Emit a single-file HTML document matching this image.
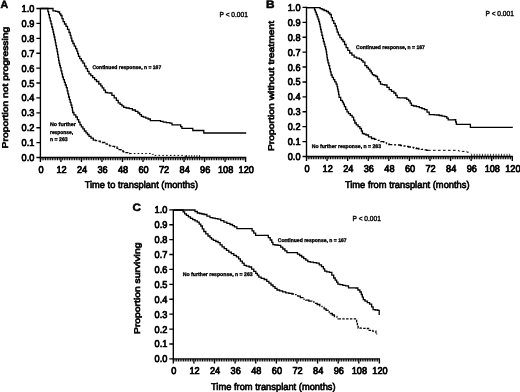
<!DOCTYPE html>
<html lang="en">
<head>
<meta charset="utf-8">
<title>Figure</title>
<style>
html,body{margin:0;padding:0;background:#fff;}
body{width:520px;height:392px;overflow:hidden;}
svg{display:block;}
text{font-family:"Liberation Sans", sans-serif;fill:#000;text-rendering:geometricPrecision;}
.tk{font-size:9.2px;stroke:#000;stroke-width:0.7px;}
.ti{font-size:8.3px;stroke:#000;stroke-width:0.62px;}
.tx{font-size:9.3px;stroke:#000;stroke-width:0.62px;}
.pl{font-size:10.6px;font-weight:bold;stroke:#000;stroke-width:0.5px;}
.pv{font-size:7.3px;stroke:#000;stroke-width:0.4px;}
.lg{font-size:5.25px;font-weight:bold;stroke:#000;stroke-width:0.33px;}
</style>
</head>
<body>
<svg width="520" height="392" viewBox="0 0 520 392">
<rect width="520" height="392" fill="#fff"/>
<path d="M40.40,7.90V157.50H246.20" fill="none" stroke="#000" stroke-width="1.35"/>
<text transform="translate(34.40,161.00) scale(1,1.07)" text-anchor="end" class="tk">0.0</text>
<text transform="translate(34.40,146.10) scale(1,1.07)" text-anchor="end" class="tk">0.1</text>
<text transform="translate(34.40,131.20) scale(1,1.07)" text-anchor="end" class="tk">0.2</text>
<text transform="translate(34.40,116.30) scale(1,1.07)" text-anchor="end" class="tk">0.3</text>
<text transform="translate(34.40,101.40) scale(1,1.07)" text-anchor="end" class="tk">0.4</text>
<text transform="translate(34.40,86.50) scale(1,1.07)" text-anchor="end" class="tk">0.5</text>
<text transform="translate(34.40,71.60) scale(1,1.07)" text-anchor="end" class="tk">0.6</text>
<text transform="translate(34.40,56.70) scale(1,1.07)" text-anchor="end" class="tk">0.7</text>
<text transform="translate(34.40,41.80) scale(1,1.07)" text-anchor="end" class="tk">0.8</text>
<text transform="translate(34.40,26.90) scale(1,1.07)" text-anchor="end" class="tk">0.9</text>
<text transform="translate(34.40,12.00) scale(1,1.07)" text-anchor="end" class="tk">1.0</text>
<text transform="translate(41.00,173.40) scale(1,1.07)" text-anchor="middle" class="tk">0</text>
<text transform="translate(61.52,173.40) scale(1,1.07)" text-anchor="middle" class="tk">12</text>
<text transform="translate(82.04,173.40) scale(1,1.07)" text-anchor="middle" class="tk">24</text>
<text transform="translate(102.56,173.40) scale(1,1.07)" text-anchor="middle" class="tk">36</text>
<text transform="translate(123.08,173.40) scale(1,1.07)" text-anchor="middle" class="tk">48</text>
<text transform="translate(143.60,173.40) scale(1,1.07)" text-anchor="middle" class="tk">60</text>
<text transform="translate(164.12,173.40) scale(1,1.07)" text-anchor="middle" class="tk">72</text>
<text transform="translate(184.64,173.40) scale(1,1.07)" text-anchor="middle" class="tk">84</text>
<text transform="translate(205.16,173.40) scale(1,1.07)" text-anchor="middle" class="tk">96</text>
<text transform="translate(225.68,173.40) scale(1,1.07)" text-anchor="middle" class="tk">108</text>
<text transform="translate(246.20,173.40) scale(1,1.07)" text-anchor="middle" class="tk">120</text>
<path d="M36.40,157.50H40.40M36.40,142.60H40.40M36.40,127.70H40.40M36.40,112.80H40.40M36.40,97.90H40.40M36.40,83.00H40.40M36.40,68.10H40.40M36.40,53.20H40.40M36.40,38.30H40.40M36.40,23.40H40.40M36.40,8.50H40.40M40.40,157.50V162.10M60.92,157.50V162.10M81.44,157.50V162.10M101.96,157.50V162.10M122.48,157.50V162.10M143.00,157.50V162.10M163.52,157.50V162.10M184.04,157.50V162.10M204.56,157.50V162.10M225.08,157.50V162.10M245.60,157.50V162.10" fill="none" stroke="#000" stroke-width="1.35"/>
<path d="M42.11,157.50V160.20M43.82,157.50V160.20M45.53,157.50V160.20M47.24,157.50V160.20M48.95,157.50V160.20M50.66,157.50V160.20M52.37,157.50V160.20M54.08,157.50V160.20M55.79,157.50V160.20M57.50,157.50V160.20M59.21,157.50V160.20M62.63,157.50V160.20M64.34,157.50V160.20M66.05,157.50V160.20M67.76,157.50V160.20M69.47,157.50V160.20M71.18,157.50V160.20M72.89,157.50V160.20M74.60,157.50V160.20M76.31,157.50V160.20M78.02,157.50V160.20M79.73,157.50V160.20M83.15,157.50V160.20M84.86,157.50V160.20M86.57,157.50V160.20M88.28,157.50V160.20M89.99,157.50V160.20M91.70,157.50V160.20M93.41,157.50V160.20M95.12,157.50V160.20M96.83,157.50V160.20M98.54,157.50V160.20M100.25,157.50V160.20M103.67,157.50V160.20M105.38,157.50V160.20M107.09,157.50V160.20M108.80,157.50V160.20M110.51,157.50V160.20M112.22,157.50V160.20M113.93,157.50V160.20M115.64,157.50V160.20M117.35,157.50V160.20M119.06,157.50V160.20M120.77,157.50V160.20M124.19,157.50V160.20M125.90,157.50V160.20M127.61,157.50V160.20M129.32,157.50V160.20M131.03,157.50V160.20M132.74,157.50V160.20M134.45,157.50V160.20M136.16,157.50V160.20M137.87,157.50V160.20M139.58,157.50V160.20M141.29,157.50V160.20M144.71,157.50V160.20M146.42,157.50V160.20M148.13,157.50V160.20M149.84,157.50V160.20M151.55,157.50V160.20M153.26,157.50V160.20M154.97,157.50V160.20M156.68,157.50V160.20M158.39,157.50V160.20M160.10,157.50V160.20M161.81,157.50V160.20M165.23,157.50V160.20M166.94,157.50V160.20M168.65,157.50V160.20M170.36,157.50V160.20M172.07,157.50V160.20M173.78,157.50V160.20M175.49,157.50V160.20M177.20,157.50V160.20M178.91,157.50V160.20M180.62,157.50V160.20M182.33,157.50V160.20M185.75,157.50V160.20M187.46,157.50V160.20M189.17,157.50V160.20M190.88,157.50V160.20M192.59,157.50V160.20M194.30,157.50V160.20M196.01,157.50V160.20M197.72,157.50V160.20M199.43,157.50V160.20M201.14,157.50V160.20M202.85,157.50V160.20M206.27,157.50V160.20M207.98,157.50V160.20M209.69,157.50V160.20M211.40,157.50V160.20M213.11,157.50V160.20M214.82,157.50V160.20M216.53,157.50V160.20M218.24,157.50V160.20M219.95,157.50V160.20M221.66,157.50V160.20M223.37,157.50V160.20M226.79,157.50V160.20M228.50,157.50V160.20M230.21,157.50V160.20M231.92,157.50V160.20M233.63,157.50V160.20M235.34,157.50V160.20M237.05,157.50V160.20M238.76,157.50V160.20M240.47,157.50V160.20M242.18,157.50V160.20M243.89,157.50V160.20" fill="none" stroke="#000" stroke-width="1.05"/>
<text transform="translate(8.00,148.40) rotate(-90)" textLength="121.70" lengthAdjust="spacingAndGlyphs" class="ti">Proportion not progressing</text>
<text transform="translate(84.70,188.10) scale(1,1.05)" textLength="113.30" lengthAdjust="spacingAndGlyphs" class="tx">Time to transplant (months)</text>
<text transform="translate(0.5,8.0) scale(1.0,1.0)" class="pl">A</text>
<text x="219.6" y="17.2" textLength="28.2" lengthAdjust="spacingAndGlyphs" class="pv">P &lt; 0.001</text>
<text x="92.4" y="69.4" textLength="68.8" lengthAdjust="spacingAndGlyphs" class="lg">Continued response, n = 167</text>
<text x="50.0" y="126.4" textLength="25.8" lengthAdjust="spacingAndGlyphs" class="lg">No further</text>
<text x="50.0" y="134.0" textLength="23.1" lengthAdjust="spacingAndGlyphs" class="lg">response,</text>
<text x="50.0" y="141.3" textLength="17.7" lengthAdjust="spacingAndGlyphs" class="lg">n = 263</text>
<polyline points="40.4,8.5 51.4,8.5 53.0,8.5 53.0,10.9 54.5,10.9 55.6,10.9 55.6,11.4 56.8,11.4 57.9,11.4 57.9,12.0 59.0,12.0 59.6,12.0 59.6,13.8 60.2,13.8 60.8,13.8 60.8,15.5 61.4,15.5 62.0,15.5 62.0,18.6 62.5,18.6 63.1,18.6 63.1,21.7 63.7,21.7 64.5,21.7 64.5,24.0 65.2,24.0 66.0,24.0 66.0,26.3 66.8,26.3 67.5,26.3 67.5,29.4 68.3,29.4 69.0,29.4 69.0,32.5 69.8,32.5 70.2,32.5 70.2,35.3 70.6,35.3 71.0,35.3 71.0,38.2 71.4,38.2 71.8,38.2 71.8,41.0 72.2,41.0 72.9,41.0 72.9,43.5 73.6,43.5 74.2,43.5 74.2,46.1 74.9,46.1 75.6,46.1 75.6,48.6 76.3,48.6 76.8,48.6 76.8,51.2 77.2,51.2 77.7,51.2 77.7,53.7 78.1,53.7 78.5,53.7 78.5,56.3 79.0,56.3 79.8,56.3 79.8,58.6 80.6,58.6 81.3,58.6 81.3,60.9 82.1,60.9 82.9,60.9 82.9,63.2 83.7,63.2 84.5,63.2 84.5,66.2 85.2,66.2 86.0,66.2 86.0,68.7 86.7,68.7 87.5,68.7 87.5,71.3 88.3,71.3 89.0,71.3 89.0,73.8 89.8,73.8 90.8,73.8 90.8,75.7 91.7,75.7 92.7,75.7 92.7,77.7 93.7,77.7 94.6,77.7 94.6,79.6 95.6,79.6 96.5,79.6 96.5,81.5 97.5,81.5 98.8,81.5 98.8,84.0 100.0,84.0 100.8,84.0 100.8,85.9 101.5,85.9 102.2,85.9 102.2,87.8 103.0,87.8 103.8,87.8 103.8,90.2 104.6,90.2 105.4,90.2 105.4,92.5 106.2,92.5 107.3,92.5 107.3,92.8 108.5,92.8 109.7,92.8 109.7,93.0 110.8,93.0 111.9,93.0 111.9,95.4 113.1,95.4 114.2,95.4 114.2,97.8 115.4,97.8 116.4,97.8 116.4,100.3 117.3,100.3 118.2,100.3 118.2,102.8 119.2,102.8 120.1,102.8 120.1,104.3 121.0,104.3 121.9,104.3 121.9,105.9 122.8,105.9 123.7,105.9 123.7,107.4 124.6,107.4 126.2,107.4 126.2,108.0 127.7,108.0 129.2,108.0 129.2,108.6 130.8,108.6 132.4,108.6 132.4,110.0 133.9,110.0 135.4,110.0 135.4,111.4 137.0,111.4 137.9,111.4 137.9,113.0 138.8,113.0 139.7,113.0 139.7,114.7 140.5,114.7 141.4,114.7 141.4,116.3 142.3,116.3 143.4,116.3 143.4,117.2 144.6,117.2 145.8,117.2 145.8,118.1 146.9,118.1 148.1,118.1 148.1,119.0 149.2,119.0 150.3,119.0 150.3,120.6 151.5,120.6 159.2,120.6 160.5,120.6 160.5,121.4 161.9,121.4 163.2,121.4 163.2,122.2 164.6,122.2 166.3,122.2 166.3,122.7 168.1,122.7 169.8,122.7 169.8,123.2 171.5,123.2 172.0,123.2 172.0,124.8 172.5,124.8 180.0,124.8 180.7,124.8 180.7,126.6 181.3,126.6 181.9,126.6 181.9,128.3 182.6,128.3 192.3,128.3 192.8,128.3 192.8,130.5 193.3,130.5 203.0,130.5 203.8,130.5 203.8,133.0 204.6,133.0 246.2,133.0" fill="none" stroke="#000" stroke-width="1.3" stroke-linejoin="miter"/>
<polyline points="40.4,8.5 47.5,8.5 47.9,8.5 47.9,11.6 48.3,11.6 48.6,11.6 48.6,14.7 49.0,14.7 49.4,14.7 49.4,17.8 49.8,17.8 50.2,17.8 50.2,20.9 50.6,20.9 51.0,20.9 51.0,23.9 51.4,23.9 51.8,23.9 51.8,27.0 52.2,27.0 52.5,27.0 52.5,29.5 52.8,29.5 53.1,29.5 53.1,32.0 53.4,32.0 53.6,32.0 53.6,34.5 53.9,34.5 54.2,34.5 54.2,37.0 54.5,37.0 54.8,37.0 54.8,39.9 55.1,39.9 55.4,39.9 55.4,42.8 55.6,42.8 55.9,42.8 55.9,45.7 56.2,45.7 56.5,45.7 56.5,48.6 56.8,48.6 57.1,48.6 57.1,51.5 57.3,51.5 57.6,51.5 57.6,54.4 57.8,54.4 58.1,54.4 58.1,57.4 58.4,57.4 58.6,57.4 58.6,60.3 58.9,60.3 59.1,60.3 59.1,63.2 59.4,63.2 59.7,63.2 59.7,65.5 60.0,65.5 60.3,65.5 60.3,67.7 60.6,67.7 61.0,67.7 61.0,70.8 61.4,70.8 61.8,70.8 61.8,73.9 62.1,73.9 62.5,73.9 62.5,77.0 62.9,77.0 63.4,77.0 63.4,79.7 63.9,79.7 64.4,79.7 64.4,82.3 64.8,82.3 65.3,82.3 65.3,85.0 65.8,85.0 66.3,85.0 66.3,87.7 66.8,87.7 67.2,87.7 67.2,90.8 67.5,90.8 67.9,90.8 67.9,93.9 68.3,93.9 68.6,93.9 68.6,97.0 69.0,97.0 69.4,97.0 69.4,99.7 69.8,99.7 70.2,99.7 70.2,102.3 70.6,102.3 71.0,102.3 71.0,105.0 71.4,105.0 71.8,105.0 71.8,107.7 72.2,107.7 72.4,107.7 72.4,110.1 72.6,110.1 72.7,110.1 72.7,112.5 72.9,112.5 73.9,112.5 73.9,114.8 74.8,114.8 75.8,114.8 75.8,117.0 76.8,117.0 77.4,117.0 77.4,119.6 78.1,119.6 78.7,119.6 78.7,122.2 79.3,122.2 80.0,122.2 80.0,124.8 80.6,124.8 81.4,124.8 81.4,126.9 82.1,126.9 82.9,126.9 82.9,128.9 83.7,128.9 84.4,128.9 84.4,131.0 85.2,131.0 86.0,131.0 86.0,132.8 86.7,132.8 87.5,132.8 87.5,134.5 88.3,134.5 89.0,134.5 89.0,136.3 89.8,136.3 91.0,136.3 91.0,138.2 92.2,138.2 93.3,138.2 93.3,140.2 94.5,140.2" fill="none" stroke="#000" stroke-width="1.3" stroke-linejoin="miter"/>
<polyline points="94.5,140.2 95.6,140.2 95.6,140.7 96.8,140.7 97.9,140.7 97.9,141.2 99.0,141.2 100.2,141.2 100.2,141.8 101.3,141.8 102.5,141.8 102.5,142.5 103.7,142.5 104.8,142.5 104.8,143.8 106.0,143.8 107.2,143.8 107.2,145.2 108.3,145.2 109.6,145.2 109.6,145.8 110.9,145.8 112.2,145.8 112.2,146.4 113.4,146.4 114.7,146.4 114.7,147.0 116.0,147.0 117.0,147.0 117.0,148.3 118.0,148.3 119.0,148.3 119.0,149.7 120.0,149.7 121.0,149.7 121.0,151.0 122.0,151.0 123.3,151.0 123.3,151.8 124.7,151.8 126.0,151.8 126.0,152.7 127.3,152.7 128.7,152.7 128.7,153.5 130.0,153.5" fill="none" stroke="#000" stroke-width="1.3" stroke-linejoin="miter" stroke-dasharray="3.2 1.6"/>
<polyline points="130.0,153.5 150.0,153.5 151.2,153.5 151.2,154.4 152.5,154.4 153.8,154.4 153.8,155.4 155.0,155.4 184.0,155.4 185.0,155.4 185.0,156.4 186.0,156.4" fill="none" stroke="#000" stroke-width="1.0" stroke-linejoin="miter" stroke-dasharray="1.6 2.2"/>
<path d="M186.5,157.0v-2.0M189.1,157.0v-2.0M191.7,157.0v-2.0M194.3,157.0v-2.0M196.9,157.0v-2.0M199.5,157.0v-2.0" fill="none" stroke="#000" stroke-width="0.8"/>
<path d="M306.50,6.80V156.50H512.90" fill="none" stroke="#000" stroke-width="1.35"/>
<text transform="translate(300.50,160.00) scale(1,1.07)" text-anchor="end" class="tk">0.0</text>
<text transform="translate(300.50,145.09) scale(1,1.07)" text-anchor="end" class="tk">0.1</text>
<text transform="translate(300.50,130.18) scale(1,1.07)" text-anchor="end" class="tk">0.2</text>
<text transform="translate(300.50,115.27) scale(1,1.07)" text-anchor="end" class="tk">0.3</text>
<text transform="translate(300.50,100.36) scale(1,1.07)" text-anchor="end" class="tk">0.4</text>
<text transform="translate(300.50,85.45) scale(1,1.07)" text-anchor="end" class="tk">0.5</text>
<text transform="translate(300.50,70.54) scale(1,1.07)" text-anchor="end" class="tk">0.6</text>
<text transform="translate(300.50,55.63) scale(1,1.07)" text-anchor="end" class="tk">0.7</text>
<text transform="translate(300.50,40.72) scale(1,1.07)" text-anchor="end" class="tk">0.8</text>
<text transform="translate(300.50,25.81) scale(1,1.07)" text-anchor="end" class="tk">0.9</text>
<text transform="translate(300.50,10.90) scale(1,1.07)" text-anchor="end" class="tk">1.0</text>
<text transform="translate(307.10,172.10) scale(1,1.07)" text-anchor="middle" class="tk">0</text>
<text transform="translate(327.68,172.10) scale(1,1.07)" text-anchor="middle" class="tk">12</text>
<text transform="translate(348.26,172.10) scale(1,1.07)" text-anchor="middle" class="tk">24</text>
<text transform="translate(368.84,172.10) scale(1,1.07)" text-anchor="middle" class="tk">36</text>
<text transform="translate(389.42,172.10) scale(1,1.07)" text-anchor="middle" class="tk">48</text>
<text transform="translate(410.00,172.10) scale(1,1.07)" text-anchor="middle" class="tk">60</text>
<text transform="translate(430.58,172.10) scale(1,1.07)" text-anchor="middle" class="tk">72</text>
<text transform="translate(451.16,172.10) scale(1,1.07)" text-anchor="middle" class="tk">84</text>
<text transform="translate(471.74,172.10) scale(1,1.07)" text-anchor="middle" class="tk">96</text>
<text transform="translate(492.32,172.10) scale(1,1.07)" text-anchor="middle" class="tk">108</text>
<text transform="translate(512.90,172.10) scale(1,1.07)" text-anchor="middle" class="tk">120</text>
<path d="M302.50,156.50H306.50M302.50,141.59H306.50M302.50,126.68H306.50M302.50,111.77H306.50M302.50,96.86H306.50M302.50,81.95H306.50M302.50,67.04H306.50M302.50,52.13H306.50M302.50,37.22H306.50M302.50,22.31H306.50M302.50,7.40H306.50M306.50,156.50V161.10M327.08,156.50V161.10M347.66,156.50V161.10M368.24,156.50V161.10M388.82,156.50V161.10M409.40,156.50V161.10M429.98,156.50V161.10M450.56,156.50V161.10M471.14,156.50V161.10M491.72,156.50V161.10M512.30,156.50V161.10" fill="none" stroke="#000" stroke-width="1.35"/>
<path d="M308.21,156.50V159.20M309.93,156.50V159.20M311.64,156.50V159.20M313.36,156.50V159.20M315.07,156.50V159.20M316.79,156.50V159.20M318.50,156.50V159.20M320.22,156.50V159.20M321.94,156.50V159.20M323.65,156.50V159.20M325.37,156.50V159.20M328.80,156.50V159.20M330.51,156.50V159.20M332.22,156.50V159.20M333.94,156.50V159.20M335.65,156.50V159.20M337.37,156.50V159.20M339.08,156.50V159.20M340.80,156.50V159.20M342.51,156.50V159.20M344.23,156.50V159.20M345.94,156.50V159.20M349.38,156.50V159.20M351.09,156.50V159.20M352.81,156.50V159.20M354.52,156.50V159.20M356.24,156.50V159.20M357.95,156.50V159.20M359.66,156.50V159.20M361.38,156.50V159.20M363.09,156.50V159.20M364.81,156.50V159.20M366.52,156.50V159.20M369.95,156.50V159.20M371.67,156.50V159.20M373.38,156.50V159.20M375.10,156.50V159.20M376.81,156.50V159.20M378.53,156.50V159.20M380.25,156.50V159.20M381.96,156.50V159.20M383.67,156.50V159.20M385.39,156.50V159.20M387.11,156.50V159.20M390.53,156.50V159.20M392.25,156.50V159.20M393.96,156.50V159.20M395.68,156.50V159.20M397.39,156.50V159.20M399.11,156.50V159.20M400.82,156.50V159.20M402.54,156.50V159.20M404.25,156.50V159.20M405.97,156.50V159.20M407.68,156.50V159.20M411.12,156.50V159.20M412.83,156.50V159.20M414.54,156.50V159.20M416.26,156.50V159.20M417.97,156.50V159.20M419.69,156.50V159.20M421.40,156.50V159.20M423.12,156.50V159.20M424.83,156.50V159.20M426.55,156.50V159.20M428.26,156.50V159.20M431.69,156.50V159.20M433.41,156.50V159.20M435.12,156.50V159.20M436.84,156.50V159.20M438.55,156.50V159.20M440.27,156.50V159.20M441.99,156.50V159.20M443.70,156.50V159.20M445.41,156.50V159.20M447.13,156.50V159.20M448.84,156.50V159.20M452.27,156.50V159.20M453.99,156.50V159.20M455.70,156.50V159.20M457.42,156.50V159.20M459.13,156.50V159.20M460.85,156.50V159.20M462.56,156.50V159.20M464.28,156.50V159.20M465.99,156.50V159.20M467.71,156.50V159.20M469.42,156.50V159.20M472.85,156.50V159.20M474.57,156.50V159.20M476.28,156.50V159.20M478.00,156.50V159.20M479.71,156.50V159.20M481.43,156.50V159.20M483.14,156.50V159.20M484.86,156.50V159.20M486.57,156.50V159.20M488.29,156.50V159.20M490.00,156.50V159.20M493.43,156.50V159.20M495.15,156.50V159.20M496.86,156.50V159.20M498.58,156.50V159.20M500.29,156.50V159.20M502.01,156.50V159.20M503.72,156.50V159.20M505.44,156.50V159.20M507.15,156.50V159.20M508.87,156.50V159.20M510.58,156.50V159.20" fill="none" stroke="#000" stroke-width="1.05"/>
<text transform="translate(273.80,151.10) rotate(-90)" textLength="130.30" lengthAdjust="spacingAndGlyphs" class="ti">Proportion without treatment</text>
<text transform="translate(344.90,187.80) scale(1,1.05)" textLength="124.70" lengthAdjust="spacingAndGlyphs" class="tx">Time from transplant (months)</text>
<text transform="translate(265.9,7.8) scale(1.12,1.03)" class="pl">B</text>
<text x="485.6" y="16.2" textLength="28.2" lengthAdjust="spacingAndGlyphs" class="pv">P &lt; 0.001</text>
<text x="356.0" y="48.6" textLength="68.8" lengthAdjust="spacingAndGlyphs" class="lg">Continued response, n = 167</text>
<text x="311.8" y="147.8" textLength="69.2" lengthAdjust="spacingAndGlyphs" class="lg">No further response, n = 263</text>
<polyline points="307.0,7.6 319.2,7.6 320.1,7.6 320.1,8.6 321.1,8.6 322.1,8.6 322.1,9.5 323.0,9.5 324.1,9.5 324.1,10.5 325.3,10.5 326.5,10.5 326.5,11.5 327.6,11.5 328.4,11.5 328.4,13.0 329.1,13.0 329.9,13.0 329.9,14.5 330.7,14.5 331.3,14.5 331.3,17.6 331.9,17.6 332.4,17.6 332.4,20.7 333.0,20.7 333.8,20.7 333.8,23.4 334.5,23.4 335.2,23.4 335.2,26.0 336.0,26.0 336.4,26.0 336.4,29.1 336.8,29.1 337.2,29.1 337.2,32.2 337.6,32.2 338.4,32.2 338.4,34.9 339.1,34.9 339.9,34.9 339.9,37.6 340.7,37.6 341.5,37.6 341.5,39.5 342.2,39.5 343.0,39.5 343.0,41.5 343.8,41.5 344.6,41.5 344.6,44.5 345.3,44.5 346.1,44.5 346.1,47.6 346.8,47.6 347.8,47.6 347.8,50.3 348.8,50.3 349.7,50.3 349.7,53.0 350.7,53.0 351.9,53.0 351.9,55.1 353.0,55.1 354.1,55.1 354.1,57.2 355.3,57.2 356.6,57.2 356.6,58.2 358.0,58.2 359.4,58.2 359.4,59.2 360.7,59.2 361.5,59.2 361.5,60.7 362.2,60.7 363.0,60.7 363.0,62.2 363.8,62.2 364.9,62.2 364.9,65.7 366.0,65.7 366.8,65.7 366.8,67.5 367.6,67.5 368.4,67.5 368.4,69.2 369.1,69.2 369.9,69.2 369.9,71.0 370.7,71.0 371.3,71.0 371.3,72.8 371.9,72.8 372.4,72.8 372.4,74.6 373.0,74.6 373.9,74.6 373.9,75.5 374.9,75.5 375.9,75.5 375.9,76.5 376.8,76.5 377.5,76.5 377.5,79.1 378.3,79.1 379.0,79.1 379.0,81.6 379.7,81.6 380.5,81.6 380.5,84.2 381.2,84.2 382.4,84.2 382.4,84.6 383.5,84.6 384.6,84.6 384.6,85.0 385.8,85.0 387.0,85.0 387.0,87.3 388.1,87.3 389.2,87.3 389.2,89.7 390.4,89.7 391.5,89.7 391.5,91.3 392.7,91.3 393.9,91.3 393.9,93.0 395.0,93.0 395.8,93.0 395.8,95.3 396.5,95.3 397.2,95.3 397.2,97.7 398.0,97.7 399.3,97.7 399.3,97.8 400.6,97.8 401.9,97.8 401.9,97.9 403.2,97.9 404.5,97.9 404.5,98.0 405.8,98.0 406.8,98.0 406.8,99.4 407.7,99.4 408.7,99.4 408.7,100.8 409.6,100.8 410.2,100.8 410.2,103.1 410.8,103.1 411.4,103.1 411.4,105.4 412.0,105.4 413.5,105.4 413.5,106.0 415.0,106.0 416.5,106.0 416.5,106.6 418.0,106.6 419.3,106.6 419.3,107.6 420.6,107.6 421.9,107.6 421.9,108.7 423.2,108.7 424.5,108.7 424.5,109.7 425.8,109.7 427.0,109.7 427.0,112.2 428.1,112.2 429.2,112.2 429.2,114.6 430.4,114.6 431.7,114.6 431.7,114.7 432.9,114.7 434.2,114.7 434.2,114.9 435.5,114.9 436.7,114.9 436.7,115.0 438.0,115.0 439.3,115.0 439.3,115.5 440.7,115.5 442.0,115.5 442.0,116.1 443.3,116.1 444.7,116.1 444.7,116.6 446.0,116.6 446.8,116.6 446.8,118.2 447.5,118.2 448.2,118.2 448.2,119.8 449.0,119.8 452.2,119.8 455.4,119.7 455.7,119.7 455.7,122.0 456.0,122.0 456.3,122.0 456.3,124.3 456.6,124.3 470.0,124.3 470.4,124.3 470.4,127.4 470.8,127.4 512.8,127.4" fill="none" stroke="#000" stroke-width="1.3" stroke-linejoin="miter"/>
<polyline points="307.0,7.6 314.0,7.6 314.5,7.6 314.5,9.9 314.9,9.9 315.4,9.9 315.4,12.2 315.9,12.2 316.3,12.2 316.3,14.5 316.8,14.5 317.2,14.5 317.2,16.8 317.6,16.8 318.0,16.8 318.0,19.2 318.4,19.2 318.8,19.2 318.8,21.5 319.2,21.5 319.5,21.5 319.5,24.2 319.8,24.2 320.1,24.2 320.1,26.9 320.4,26.9 320.6,26.9 320.6,29.5 320.9,29.5 321.2,29.5 321.2,32.2 321.5,32.2 321.9,32.2 321.9,35.3 322.3,35.3 322.6,35.3 322.6,38.4 323.0,38.4 323.4,38.4 323.4,41.5 323.8,41.5 324.2,41.5 324.2,44.1 324.5,44.1 324.9,44.1 324.9,46.6 325.3,46.6 325.6,46.6 325.6,49.2 326.0,49.2 326.2,49.2 326.2,51.9 326.4,51.9 326.6,51.9 326.6,54.6 326.8,54.6 327.0,54.6 327.0,57.3 327.2,57.3 327.4,57.3 327.4,60.0 327.6,60.0 328.0,60.0 328.0,62.9 328.4,62.9 328.8,62.9 328.8,65.7 329.2,65.7 329.6,65.7 329.6,68.8 330.0,68.8 330.4,68.8 330.4,71.9 330.7,71.9 331.1,71.9 331.1,75.0 331.5,75.0 332.2,75.0 332.2,77.3 332.8,77.3 333.5,77.3 333.5,79.6 334.1,79.6 334.8,79.6 334.8,81.9 335.5,81.9 336.1,81.9 336.1,84.2 336.8,84.2 337.1,84.2 337.1,86.6 337.3,86.6 337.6,86.6 337.6,89.1 337.8,89.1 338.1,89.1 338.1,91.5 338.3,91.5 338.6,91.5 338.6,94.4 338.9,94.4 339.1,94.4 339.1,97.3 339.4,97.3 340.7,97.3 340.7,100.3 342.0,100.3 342.4,100.3 342.4,102.2 342.9,102.2 343.4,102.2 343.4,104.2 343.8,104.2 344.4,104.2 344.4,106.7 345.1,106.7 345.7,106.7 345.7,109.3 346.3,109.3 347.0,109.3 347.0,111.8 347.6,111.8 348.5,111.8 348.5,113.6 349.4,113.6 350.3,113.6 350.3,115.4 351.2,115.4 352.1,115.4 352.1,117.2 353.0,117.2 353.6,117.2 353.6,120.1 354.2,120.1 354.8,120.1 354.8,123.0 355.4,123.0 356.3,123.0 356.3,124.8 357.2,124.8 358.1,124.8 358.1,126.7 359.0,126.7 359.9,126.7 359.9,128.5 360.8,128.5 361.4,128.5 361.4,131.0 361.9,131.0 362.4,131.0 362.4,133.5 363.0,133.5 364.0,133.5 364.0,134.2 365.0,134.2 366.0,134.2 366.0,135.0 367.0,135.0 368.5,135.0 368.5,136.8 370.0,136.8 371.5,136.8 371.5,138.5 373.0,138.5" fill="none" stroke="#000" stroke-width="1.3" stroke-linejoin="miter"/>
<polyline points="373.0,138.5 374.6,138.5 374.6,139.4 376.1,139.4 377.6,139.4 377.6,140.3 379.2,140.3 380.8,140.3 380.8,141.6 382.3,141.6 383.8,141.6 383.8,142.8 385.4,142.8 386.5,142.8 386.5,143.7 387.7,143.7 388.9,143.7 388.9,144.6 390.0,144.6 391.5,144.6 391.5,144.7 393.1,144.7 394.6,144.7 394.6,144.9 396.1,144.9 397.7,144.9 397.7,145.0 399.2,145.0 400.5,145.0 400.5,145.5 401.9,145.5 403.2,145.5 403.2,146.0 404.6,146.0 406.0,146.0 406.0,146.5 407.3,146.5 408.6,146.5 408.6,147.0 410.0,147.0 411.2,147.0 411.2,147.5 412.5,147.5 413.8,147.5 413.8,148.0 415.0,148.0 416.2,148.0 416.2,148.5 417.5,148.5 418.8,148.5 418.8,149.0 420.0,149.0 421.3,149.0 421.3,149.4 422.7,149.4 424.0,149.4 424.0,149.9 425.3,149.9 426.7,149.9 426.7,150.3 428.0,150.3" fill="none" stroke="#000" stroke-width="1.3" stroke-linejoin="miter" stroke-dasharray="4.5 2 2 2"/>
<polyline points="428.0,150.3 457.0,150.3 458.5,150.3 458.5,151.0 460.0,151.0 461.4,151.0 461.4,151.4 462.8,151.4 464.2,151.4 464.2,151.8 465.7,151.8 467.1,151.8 467.1,152.2 468.5,152.2 469.5,152.2 469.5,153.0 470.5,153.0" fill="none" stroke="#000" stroke-width="1.0" stroke-linejoin="miter" stroke-dasharray="2.6 2.4"/>
<path d="M471.6,156.2v-2.4M474.3,156.2v-2.4M477.0,156.2v-2.4M479.8,156.2v-2.4M482.5,156.2v-2.4M485.2,156.2v-2.4M487.9,156.2v-2.4M490.6,156.2v-2.4M493.4,156.2v-2.4M496.1,156.2v-2.4M498.8,156.2v-2.4M501.5,156.2v-2.4M504.2,156.2v-2.4M507.0,156.2v-2.4M509.7,156.2v-2.4" fill="none" stroke="#000" stroke-width="0.8"/>
<path d="M173.30,209.20V358.90H380.00" fill="none" stroke="#000" stroke-width="1.35"/>
<text transform="translate(167.30,362.40) scale(1,1.07)" text-anchor="end" class="tk">0.0</text>
<text transform="translate(167.30,347.49) scale(1,1.07)" text-anchor="end" class="tk">0.1</text>
<text transform="translate(167.30,332.58) scale(1,1.07)" text-anchor="end" class="tk">0.2</text>
<text transform="translate(167.30,317.67) scale(1,1.07)" text-anchor="end" class="tk">0.3</text>
<text transform="translate(167.30,302.76) scale(1,1.07)" text-anchor="end" class="tk">0.4</text>
<text transform="translate(167.30,287.85) scale(1,1.07)" text-anchor="end" class="tk">0.5</text>
<text transform="translate(167.30,272.94) scale(1,1.07)" text-anchor="end" class="tk">0.6</text>
<text transform="translate(167.30,258.03) scale(1,1.07)" text-anchor="end" class="tk">0.7</text>
<text transform="translate(167.30,243.12) scale(1,1.07)" text-anchor="end" class="tk">0.8</text>
<text transform="translate(167.30,228.21) scale(1,1.07)" text-anchor="end" class="tk">0.9</text>
<text transform="translate(167.30,213.30) scale(1,1.07)" text-anchor="end" class="tk">1.0</text>
<text transform="translate(173.90,374.40) scale(1,1.07)" text-anchor="middle" class="tk">0</text>
<text transform="translate(194.51,374.40) scale(1,1.07)" text-anchor="middle" class="tk">12</text>
<text transform="translate(215.12,374.40) scale(1,1.07)" text-anchor="middle" class="tk">24</text>
<text transform="translate(235.73,374.40) scale(1,1.07)" text-anchor="middle" class="tk">36</text>
<text transform="translate(256.34,374.40) scale(1,1.07)" text-anchor="middle" class="tk">48</text>
<text transform="translate(276.95,374.40) scale(1,1.07)" text-anchor="middle" class="tk">60</text>
<text transform="translate(297.56,374.40) scale(1,1.07)" text-anchor="middle" class="tk">72</text>
<text transform="translate(318.17,374.40) scale(1,1.07)" text-anchor="middle" class="tk">84</text>
<text transform="translate(338.78,374.40) scale(1,1.07)" text-anchor="middle" class="tk">96</text>
<text transform="translate(359.39,374.40) scale(1,1.07)" text-anchor="middle" class="tk">108</text>
<text transform="translate(380.00,374.40) scale(1,1.07)" text-anchor="middle" class="tk">120</text>
<path d="M169.30,358.90H173.30M169.30,343.99H173.30M169.30,329.08H173.30M169.30,314.17H173.30M169.30,299.26H173.30M169.30,284.35H173.30M169.30,269.44H173.30M169.30,254.53H173.30M169.30,239.62H173.30M169.30,224.71H173.30M169.30,209.80H173.30M173.30,358.90V363.50M193.91,358.90V363.50M214.52,358.90V363.50M235.13,358.90V363.50M255.74,358.90V363.50M276.35,358.90V363.50M296.96,358.90V363.50M317.57,358.90V363.50M338.18,358.90V363.50M358.79,358.90V363.50M379.40,358.90V363.50" fill="none" stroke="#000" stroke-width="1.35"/>
<path d="M175.02,358.90V361.60M176.74,358.90V361.60M178.45,358.90V361.60M180.17,358.90V361.60M181.89,358.90V361.60M183.61,358.90V361.60M185.32,358.90V361.60M187.04,358.90V361.60M188.76,358.90V361.60M190.48,358.90V361.60M192.19,358.90V361.60M195.63,358.90V361.60M197.34,358.90V361.60M199.06,358.90V361.60M200.78,358.90V361.60M202.50,358.90V361.60M204.22,358.90V361.60M205.93,358.90V361.60M207.65,358.90V361.60M209.37,358.90V361.60M211.09,358.90V361.60M212.80,358.90V361.60M216.24,358.90V361.60M217.96,358.90V361.60M219.67,358.90V361.60M221.39,358.90V361.60M223.11,358.90V361.60M224.82,358.90V361.60M226.54,358.90V361.60M228.26,358.90V361.60M229.98,358.90V361.60M231.69,358.90V361.60M233.41,358.90V361.60M236.85,358.90V361.60M238.56,358.90V361.60M240.28,358.90V361.60M242.00,358.90V361.60M243.72,358.90V361.60M245.44,358.90V361.60M247.15,358.90V361.60M248.87,358.90V361.60M250.59,358.90V361.60M252.31,358.90V361.60M254.02,358.90V361.60M257.46,358.90V361.60M259.18,358.90V361.60M260.89,358.90V361.60M262.61,358.90V361.60M264.33,358.90V361.60M266.04,358.90V361.60M267.76,358.90V361.60M269.48,358.90V361.60M271.20,358.90V361.60M272.91,358.90V361.60M274.63,358.90V361.60M278.07,358.90V361.60M279.78,358.90V361.60M281.50,358.90V361.60M283.22,358.90V361.60M284.94,358.90V361.60M286.65,358.90V361.60M288.37,358.90V361.60M290.09,358.90V361.60M291.81,358.90V361.60M293.52,358.90V361.60M295.24,358.90V361.60M298.68,358.90V361.60M300.39,358.90V361.60M302.11,358.90V361.60M303.83,358.90V361.60M305.55,358.90V361.60M307.26,358.90V361.60M308.98,358.90V361.60M310.70,358.90V361.60M312.42,358.90V361.60M314.13,358.90V361.60M315.85,358.90V361.60M319.29,358.90V361.60M321.00,358.90V361.60M322.72,358.90V361.60M324.44,358.90V361.60M326.16,358.90V361.60M327.88,358.90V361.60M329.59,358.90V361.60M331.31,358.90V361.60M333.03,358.90V361.60M334.75,358.90V361.60M336.46,358.90V361.60M339.90,358.90V361.60M341.62,358.90V361.60M343.33,358.90V361.60M345.05,358.90V361.60M346.77,358.90V361.60M348.49,358.90V361.60M350.20,358.90V361.60M351.92,358.90V361.60M353.64,358.90V361.60M355.35,358.90V361.60M357.07,358.90V361.60M360.51,358.90V361.60M362.23,358.90V361.60M363.94,358.90V361.60M365.66,358.90V361.60M367.38,358.90V361.60M369.10,358.90V361.60M370.81,358.90V361.60M372.53,358.90V361.60M374.25,358.90V361.60M375.96,358.90V361.60M377.68,358.90V361.60" fill="none" stroke="#000" stroke-width="1.05"/>
<text transform="translate(140.30,334.00) rotate(-90)" textLength="91.40" lengthAdjust="spacingAndGlyphs" class="ti">Proportion surviving</text>
<text transform="translate(211.00,390.00) scale(1,1.05)" textLength="124.60" lengthAdjust="spacingAndGlyphs" class="tx">Time from transplant (months)</text>
<text transform="translate(132.4,211.0) scale(1.1,1.03)" class="pl">C</text>
<text x="352.6" y="221.2" textLength="28.2" lengthAdjust="spacingAndGlyphs" class="pv">P &lt; 0.001</text>
<text x="277.8" y="242.3" textLength="68.8" lengthAdjust="spacingAndGlyphs" class="lg">Continued response, n = 167</text>
<text x="182.8" y="275.6" textLength="69.9" lengthAdjust="spacingAndGlyphs" class="lg">No further response, n = 263</text>
<polyline points="173.8,210.0 193.8,210.0 195.0,210.0 195.0,211.5 196.2,211.5 197.3,211.5 197.3,213.0 198.5,213.0 199.7,213.0 199.7,213.5 200.8,213.5 201.9,213.5 201.9,214.0 203.1,214.0 204.2,214.0 204.2,214.5 205.4,214.5 206.9,214.5 206.9,216.1 208.4,216.1 210.0,216.1 210.0,217.6 211.5,217.6 212.8,217.6 212.8,218.1 214.1,218.1 215.3,218.1 215.3,218.7 216.6,218.7 217.9,218.7 217.9,219.2 219.2,219.2 220.8,219.2 220.8,220.7 222.3,220.7 223.9,220.7 223.9,222.2 225.4,222.2 226.9,222.2 226.9,223.3 228.4,223.3 230.0,223.3 230.0,224.5 231.5,224.5 232.5,224.5 232.5,225.7 233.4,225.7 234.4,225.7 234.4,226.8 235.4,226.8 236.9,226.8 236.9,228.6 238.5,228.6 251.2,228.6 252.1,228.6 252.1,230.9 253.0,230.9 253.8,230.9 253.8,233.1 254.7,233.1 255.6,233.1 255.6,235.4 256.5,235.4 267.3,235.4 268.3,235.4 268.3,237.7 269.2,237.7 270.2,237.7 270.2,240.0 271.2,240.0 271.8,240.0 271.8,242.3 272.4,242.3 272.9,242.3 272.9,244.6 273.5,244.6 275.0,244.6 275.0,245.0 276.6,245.0 278.1,245.0 278.1,245.4 279.6,245.4 280.7,245.4 280.7,247.2 281.7,247.2 282.8,247.2 282.8,249.0 283.8,249.0 284.9,249.0 284.9,250.8 285.9,250.8 286.9,250.8 286.9,252.6 288.0,252.6 296.5,252.6 297.5,252.6 297.5,254.1 298.6,254.1 299.6,254.1 299.6,255.5 300.6,255.5 301.7,255.5 301.7,257.0 302.7,257.0 303.7,257.0 303.7,258.6 304.7,258.6 305.8,258.6 305.8,260.1 306.8,260.1 307.8,260.1 307.8,261.7 308.8,261.7 310.3,261.7 310.3,262.2 311.9,262.2 313.4,262.2 313.4,262.7 314.9,262.7 316.5,262.7 316.5,263.2 318.0,263.2 319.2,263.2 319.2,264.9 320.4,264.9 321.5,264.9 321.5,266.6 322.7,266.6 323.4,266.6 323.4,268.9 324.0,268.9 324.7,268.9 324.7,271.2 325.4,271.2 326.8,271.2 326.8,271.8 328.1,271.8 329.5,271.8 329.5,272.4 330.8,272.4 331.8,272.4 331.8,275.2 332.7,275.2 333.7,275.2 333.7,278.0 334.6,278.0 335.2,278.0 335.2,280.1 335.9,280.1 336.6,280.1 336.6,282.1 337.2,282.1 337.9,282.1 337.9,284.2 338.5,284.2 339.9,284.2 339.9,284.7 341.3,284.7 342.8,284.7 342.8,285.3 344.2,285.3 345.6,285.3 345.6,285.8 347.0,285.8 348.5,285.8 348.5,287.8 350.0,287.8 351.2,287.8 351.2,287.9 352.3,287.9 353.5,287.9 353.5,287.9 354.7,287.9 355.8,287.9 355.8,288.0 357.0,288.0 357.9,288.0 357.9,290.0 358.9,290.0 359.9,290.0 359.9,292.0 360.8,292.0 361.3,292.0 361.3,294.5 361.8,294.5 362.3,294.5 362.3,297.1 362.8,297.1 363.3,297.1 363.3,299.6 363.8,299.6 365.0,299.6 365.0,301.1 366.1,301.1 367.3,301.1 367.3,302.7 368.5,302.7 369.6,302.7 369.6,304.2 370.8,304.2 371.6,304.2 371.6,306.9 372.3,306.9 373.1,306.9 373.1,309.6 373.8,309.6 375.1,309.6 375.1,310.0 376.5,310.0 377.9,310.0 377.9,310.4 379.2,310.4 379.2,315.0" fill="none" stroke="#000" stroke-width="1.3" stroke-linejoin="miter"/>
<polyline points="173.8,210.0 182.3,210.0 183.1,210.0 183.1,211.9 183.9,211.9 184.6,211.9 184.6,213.8 185.4,213.8 186.4,213.8 186.4,215.3 187.4,215.3 188.4,215.3 188.4,216.9 189.5,216.9 190.5,216.9 190.5,218.4 191.5,218.4 192.7,218.4 192.7,219.7 193.8,219.7 195.0,219.7 195.0,220.9 196.2,220.9 197.3,220.9 197.3,222.2 198.5,222.2 199.2,222.2 199.2,224.1 200.0,224.1 200.8,224.1 200.8,226.0 201.5,226.0 202.3,226.0 202.3,228.8 203.1,228.8 203.8,228.8 203.8,231.5 204.6,231.5 205.8,231.5 205.8,233.8 206.9,233.8 208.0,233.8 208.0,236.0 209.2,236.0 210.0,236.0 210.0,237.6 210.8,237.6 211.5,237.6 211.5,239.2 212.3,239.2 213.4,239.2 213.4,240.4 214.6,240.4 215.8,240.4 215.8,241.5 216.9,241.5 218.1,241.5 218.1,242.7 219.2,242.7 220.1,242.7 220.1,244.8 221.1,244.8 222.1,244.8 222.1,246.8 223.0,246.8 224.2,246.8 224.2,248.6 225.3,248.6 226.5,248.6 226.5,250.4 227.7,250.4 228.8,250.4 228.8,252.2 230.0,252.2 231.3,252.2 231.3,253.7 232.6,253.7 233.8,253.7 233.8,255.3 235.1,255.3 236.4,255.3 236.4,256.8 237.7,256.8 238.6,256.8 238.6,258.9 239.5,258.9 240.4,258.9 240.4,261.1 241.3,261.1 242.3,261.1 242.3,263.2 243.2,263.2 244.1,263.2 244.1,265.4 245.0,265.4 246.3,265.4 246.3,266.2 247.7,266.2 249.1,266.2 249.1,267.0 250.4,267.0 251.6,267.0 251.6,269.1 252.7,269.1 253.8,269.1 253.8,271.3 255.0,271.3 255.8,271.3 255.8,273.3 256.5,273.3 257.3,273.3 257.3,275.2 258.1,275.2 258.8,275.2 258.8,277.2 259.6,277.2 261.2,277.2 261.2,278.4 262.7,278.4 264.2,278.4 264.2,279.5 265.8,279.5 266.8,279.5 266.8,281.3 267.9,281.3 268.9,281.3 268.9,283.2 269.9,283.2 271.0,283.2 271.0,285.0 272.0,285.0 273.0,285.0 273.0,286.7 274.0,286.7 275.0,286.7 275.0,288.3 276.0,288.3 277.0,288.3 277.0,290.0 278.0,290.0 279.6,290.0 279.6,290.9 281.1,290.9 282.6,290.9 282.6,291.9 284.2,291.9 285.8,291.9 285.8,292.8 287.3,292.8" fill="none" stroke="#000" stroke-width="1.3" stroke-linejoin="miter"/>
<polyline points="287.3,292.8 288.8,292.8 288.8,293.4 290.4,293.4 291.9,293.4 291.9,294.0 293.4,294.0 295.0,294.0 295.0,294.6 296.5,294.6 297.8,294.6 297.8,296.1 299.1,296.1 300.4,296.1 300.4,297.7 301.6,297.7 302.9,297.7 302.9,299.2 304.2,299.2 305.8,299.2 305.8,300.1 307.3,300.1 308.9,300.1 308.9,301.1 310.4,301.1 311.9,301.1 311.9,302.0 313.5,302.0 314.8,302.0 314.8,303.3 316.0,303.3 317.2,303.3 317.2,304.5 318.5,304.5 319.8,304.5 319.8,305.8 321.0,305.8 322.0,305.8 322.0,307.4 323.1,307.4 324.1,307.4 324.1,308.9 325.1,308.9 326.1,308.9 326.1,310.4 327.1,310.4 328.2,310.4 328.2,312.0 329.2,312.0 330.2,312.0 330.2,313.5 331.3,313.5 332.3,313.5 332.3,315.0 333.3,315.0 334.4,315.0 334.4,316.5 335.4,316.5 336.9,316.5 336.9,318.8 338.5,318.8" fill="none" stroke="#000" stroke-width="1.3" stroke-linejoin="miter" stroke-dasharray="8 1.6 1.5 1.6"/>
<polyline points="338.5,318.8 356.2,318.8 356.6,318.8 356.6,321.9 357.0,321.9 357.4,321.9 357.4,324.9 357.7,324.9 358.1,324.9 358.1,328.0 358.5,328.0 360.0,328.0 360.0,328.2 361.6,328.2 363.1,328.2 363.1,328.3 364.6,328.3 366.2,328.3 366.2,328.5 367.7,328.5 369.2,328.5 369.2,330.4 370.8,330.4 372.7,330.4 372.7,331.2 374.6,331.2 375.9,331.2 375.9,334.0 377.2,334.0" fill="none" stroke="#000" stroke-width="1.3" stroke-linejoin="miter" stroke-dasharray="2.4 1.4"/>
</svg>
</body>
</html>
